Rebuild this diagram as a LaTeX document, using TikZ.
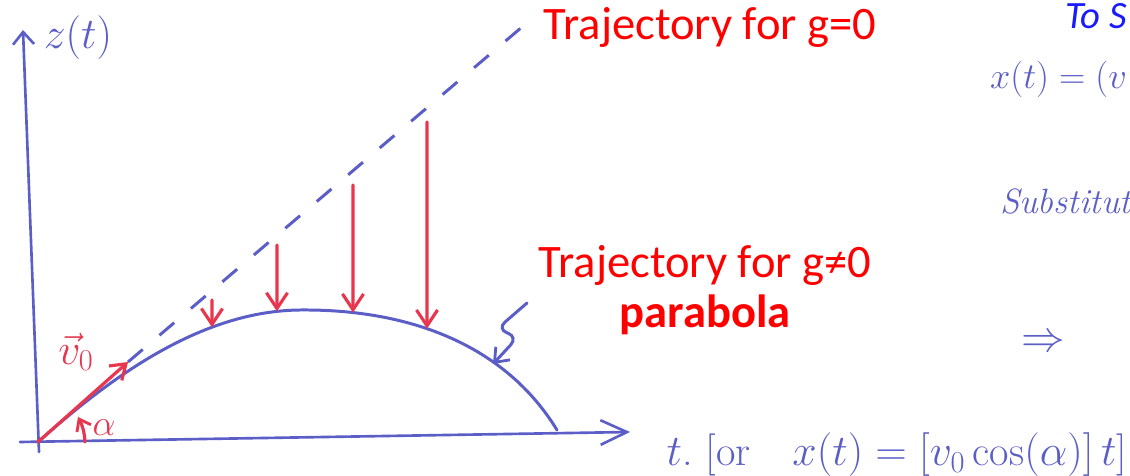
\documentclass[tikz,border=0pt]{standalone}
\usepackage{fontspec}
\usepackage{amsmath}
\usetikzlibrary{arrows.meta,intersections}
\newfontfamily\calib{Carlito}
\definecolor{cInk}{HTML}{5B5EC6}
\definecolor{cPen}{HTML}{E8364F}
\definecolor{cTxt}{HTML}{FF0000}
\definecolor{cHead}{HTML}{1A1AFF}

\begin{document}
\begin{tikzpicture}[x=0.2mm, y=-0.2mm,
    every node/.style={inner sep=0pt, outer sep=0pt},
    axis/.style ={draw=cInk, line width=1.5pt, line cap=round},
    path/.style ={draw=cInk, line width=1.7pt, line cap=round},
    free/.style ={draw=cInk, line width=1.7pt, dash pattern=on 11pt off 12.5pt},
    fall/.style ={draw=cPen, line width=1.8pt, line cap=round,
                  -{Straight Barb[length=9pt,width=12pt,line width=1.8pt]}},
    hand/.style ={text=cInk, font=\fontsize{20}{24}\selectfont},
    pen/.style  ={text=cPen, font=\fontsize{22}{26}\selectfont},
    lbl/.style  ={text=cTxt, font=\calib\fontsize{26.5}{30}\selectfont, anchor=base}]

\useasboundingbox (0,0) rectangle (1130,476);

% ── axes ────────────────────────────────────────────────────────────────
\coordinate (O)    at (38,442);
\coordinate (zbot) at (39,452);
\coordinate (ztip) at (23,30);
\coordinate (tbeg) at (20,442);
\coordinate (ttip) at (630,432);
\draw[axis, -{Straight Barb[length=7pt,width=12pt,line width=1.5pt]}] (zbot) -- (ztip);
\draw[axis, -{Straight Barb[length=15pt,width=14pt,line width=1.5pt]}] (tbeg) -- (ttip);
\node[hand, font=\fontsize{24}{28}\selectfont] (zlab) at (78,38) {$z(t)$};
\node[hand, anchor=base east, font=\fontsize{24}{29}\selectfont] (tlab) at (1127,466)
  {$t$.\ [or\quad $x(t) = [v_0\cos(\alpha)]\,t$]};

% ── trajectories ──────────────────────────────────────────────────────────
\coordinate (vtip) at (128,362);
\coordinate (gend) at (522,27);
\coordinate (land) at (557,430);
\draw[free] (vtip) -- (gend);
\draw[path, name path=para] (O) .. controls (110,378) and (200,311) .. (300,310)
  .. controls (410,309) and (505,345) .. (land);

% falling distance at four times
\foreach \i/\x/\y in {1/212/300, 2/277/245, 3/353/185, 4/427/122} {
  \path[name path=cut\i] (\x,0) -- (\x,476);
  \path[name intersections={of=para and cut\i, by=p\i}];
  \coordinate (s\i) at (\x,\y);
  \draw[fall] (s\i) -- (p\i);
}

% initial velocity and angle
\draw[fall, -{Straight Barb[length=8pt,width=11pt,line width=1.8pt]}] (O) -- (vtip);
\node[pen, font=\fontsize{24}{28}\selectfont] (vlab) at (76,352) {$\vec{v}_0$};
\coordinate (a0) at (85,442);
\coordinate (a1) at (78,417);
\draw[fall, -{Straight Barb[length=6pt,width=9pt,line width=1.6pt]}] (a0) to[bend right=12] (a1);
\node[pen] (alab) at (104,428) {$\alpha$};

% pointer to the parabola
\coordinate (q0) at (527,303);
\coordinate (q1) at (493,364);
\draw[path, rounded corners=6pt, -{Straight Barb[length=7pt,width=11pt,line width=1.6pt]}]
  (q0) -- (497,329) -- (518,337) -- (q1);

% ── labels ──────────────────────────────────────────────────────────────
\node[lbl] (gzero) at (710,40) {Trajectory for g=0};
\node[lbl] (gnon)  at (705,278) {Trajectory for g≠0};
\node[lbl, font=\calib\bfseries\fontsize{26.5}{30}\selectfont] (para) at (705,328) {parabola};

% ── notes on the right ───────────────────────────────────────────────────
\node[lbl, text=cHead, anchor=base east, font=\calib\itshape\fontsize{22}{26}\selectfont]
  (head) at (1127,29) {To S};
\node[hand, anchor=base east] (xeq) at (1127,89) {$x(t) =(v$};
\node[hand, anchor=base west] (sub) at (1000,214) {\itshape Substitut};
\node[hand, font=\fontsize{30}{34}\selectfont] (impl) at (1043,343) {$\Rightarrow$};
\end{tikzpicture}
\end{document}
